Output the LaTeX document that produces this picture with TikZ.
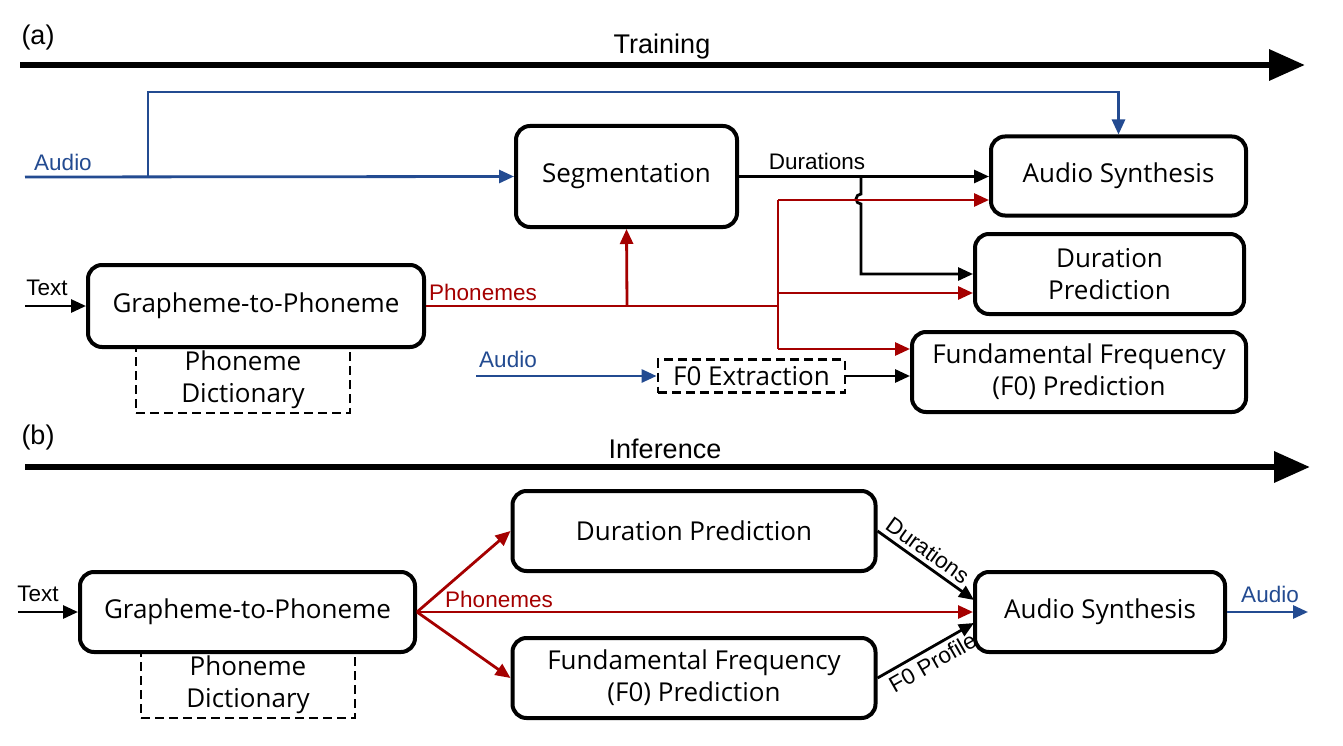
\documentclass[tikz,border=0pt]{standalone}
\usepackage{fontspec}
\setmainfont{Liberation Sans}
\newfontfamily\boxfont{Open Sans}
\usetikzlibrary{arrows.meta,calc}
\definecolor{myblue}{RGB}{35,75,145}
\definecolor{myred}{RGB}{165,0,0}
\begin{document}
\begin{tikzpicture}[x=1pt,y=-1pt,
  box/.style={draw,line width=4pt,rounded corners=14pt,fill=white,align=center,
    font=\boxfont\fontsize{26}{32}\selectfont,inner sep=0pt},
  dbox/.style={draw,line width=2.8pt,dash pattern=on 9pt off 5pt,align=center,
    font=\boxfont\fontsize{26}{32}\selectfont,inner sep=0pt},
  lbl/.style={font=\fontsize{22.5}{25}\selectfont,inner sep=0pt},
  conn/.style={line width=2.8pt,-{Triangle[length=15pt,width=13pt]}},
  plain/.style={line width=2.8pt},
  big/.style={line width=6.5pt,-{Triangle[length=36pt,width=30pt]}},
  ttl/.style={font=\fontsize{27}{30}\selectfont,inner sep=0pt}]
\useasboundingbox (0,0) rectangle (1343,746);
\fill[white] (0,0) rectangle (1343,746);

% ---------- (a) Training ----------
\node[ttl] (la) at (38,38) {(a)};
\node[ttl] (train) at (662,47) {Training};
\coordinate (ta0) at (20,65);
\coordinate (ta1) at (1305,65);
\draw[big] (ta0) -- (ta1);

\node[dbox,minimum width=214pt,minimum height=66pt] (dict) at (243,380) {Phoneme\\Dictionary};
\node[box,minimum width=336pt,minimum height=82pt] (g2p) at (256,306) {Grapheme-to-Phoneme};
\node[box,minimum width=221pt,minimum height=101pt] (seg) at (626.5,176.5) {Segmentation};
\node[box,minimum width=255pt,minimum height=79pt] (as) at (1118.5,176) {Audio Synthesis};
\node[box,minimum width=269pt,minimum height=80pt] (dp) at (1109.5,274) {Duration\\Prediction};
\node[box,minimum width=334pt,minimum height=80pt] (f0p) at (1079,372) {Fundamental Frequency\\(F0) Prediction};
\node[dbox,minimum width=187pt,minimum height=33pt] (f0e) at (751.5,376) {F0 Extraction};

% audio input
\coordinate (audA) at (25,177);
\coordinate (brA) at (148,177);
\coordinate (topA) at (148,92);
\draw[myblue,conn] (audA) -- (seg.west);
\draw[myblue,conn] (brA) -- (topA) -| (as.north);
\node[lbl,text=myblue] (audAl) at (63,162) {Audio};

% durations
\coordinate (durEnd) at (seg.east -| as.west);
\draw[conn] (seg.east) -- (durEnd);
\node[lbl] (durl) at (817,161) {Durations};
\coordinate (dbr) at (861,177);
\coordinate (dhop) at (861,194);
\coordinate (dcorner) at (861,274);
\draw[conn] (dbr) -- (dhop) arc[start angle=270,end angle=90,radius=5] -- (dcorner) -- (dcorner -| dp.west);

% text input
\coordinate (txtA) at (25,306);
\draw[conn] (txtA) -- (g2p.west);
\node[lbl] (txtAl) at (47,288) {Text};

% phonemes
\coordinate (ph1) at (627,306);
\coordinate (ph2) at (778,306);
\coordinate (phT) at (778,200);
\coordinate (phM) at (778,293);
\coordinate (phB) at (778,349);
\draw[myred,plain] (g2p.east) -- (ph2);
\draw[myred,conn] (ph1) -- (seg.south);
\draw[myred,plain] (phT) -- (phB);
\draw[myred,conn] (phT) -- (phT -| as.west);
\draw[myred,conn] (phM) -- (phM -| dp.west);
\draw[myred,conn] (phB) -- (phB -| f0p.west);
\node[lbl,text=myred] (phl) at (483,292) {Phonemes};

% F0 extraction
\coordinate (audB) at (476,376);
\draw[myblue,conn] (audB) -- (f0e.west);
\node[lbl,text=myblue] (audBl) at (508,359) {Audio};
\draw[conn] (f0e.east) -- (f0e.east -| f0p.west);

% ---------- (b) Inference ----------
\node[ttl] (lb) at (38,438) {(b)};
\node[ttl] (inf) at (665,449) {Inference};
\coordinate (tb0) at (25,467);
\coordinate (tb1) at (1310,467);
\draw[big] (tb0) -- (tb1);

\node[dbox,minimum width=214pt,minimum height=66pt] (dictb) at (248,685) {Phoneme\\Dictionary};
\node[box,minimum width=335pt,minimum height=80pt] (g2pb) at (247.5,612) {Grapheme-to-Phoneme};
\node[box,minimum width=363pt,minimum height=80pt] (dpb) at (694,531) {Duration Prediction};
\node[box,minimum width=363pt,minimum height=80pt] (f0pb) at (694,678) {Fundamental Frequency\\(F0) Prediction};
\node[box,minimum width=250pt,minimum height=80pt] (asb) at (1100,612) {Audio Synthesis};

\coordinate (txtB) at (18,612);
\draw[conn] (txtB) -- (g2pb.west);
\node[lbl] (txtBl) at (38,594) {Text};

\draw[myred,conn] (g2pb.east) -- (dpb.west);
\draw[myred,conn] (g2pb.east) -- (f0pb.west);
\draw[myred,conn] (g2pb.east) -- (asb.west);
\node[lbl,text=myred] (phbl) at (499,599) {Phonemes};

\coordinate (asd) at (974,600);
\coordinate (asf) at (974,623);
\draw[conn] (dpb.east) -- node[lbl,sloped,above=4pt,pos=0.44] (durbl) {Durations} (asd);
\draw[conn] (f0pb.east) -- node[lbl,sloped,below=4pt,pos=0.5] (f0bl) {F0 Profile} (asf);

\coordinate (audOut) at (1308,612);
\draw[myblue,conn] (asb.east) -- (audOut);
\node[lbl,text=myblue] (audOl) at (1270,594) {Audio};
\end{tikzpicture}
\end{document}
